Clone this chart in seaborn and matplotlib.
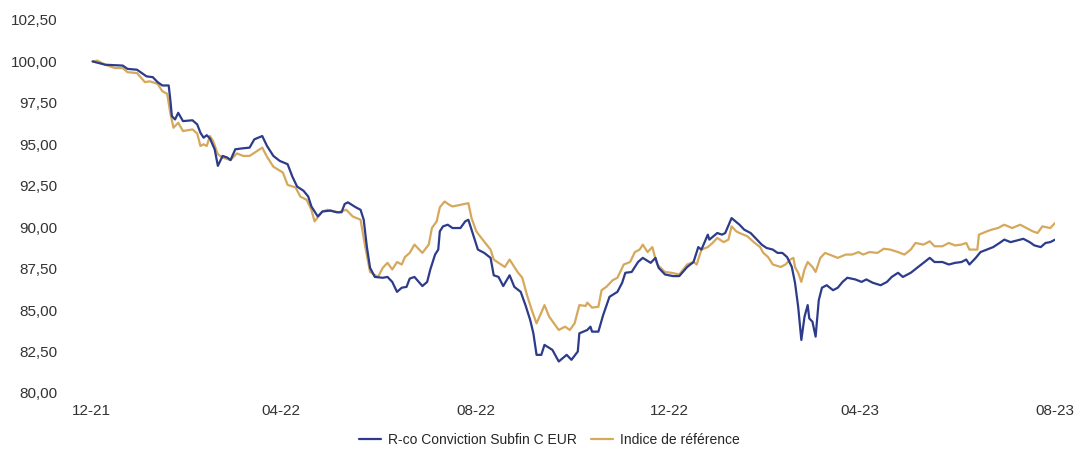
import pandas as pd
import matplotlib.pyplot as plt
import matplotlib.dates as mdates
import seaborn as sns

# series values (day offsets from 31/12/2021)
start = "2021-12-31"

fund_days = [1, 9, 20, 23, 29, 32, 35, 39, 42, 45, 49, 50, 51, 53, 55, 58, 64, 67, 69, 71,
             73, 75, 78, 80, 83, 86, 88, 91, 95, 100, 103, 108, 111, 115, 119, 124, 127, 130, 134, 137,
             139, 143, 146, 151, 155, 158, 160, 162, 167, 170, 172, 174, 176, 179, 184, 187, 190, 193, 196, 199,
             201, 204, 209, 212, 214, 217, 219, 220, 222, 225, 228, 233, 236, 238, 241, 244, 248, 252, 254, 257,
             260, 264, 267, 271, 274, 277, 279, 281, 284, 286, 291, 295, 300, 303, 307, 308, 313, 315, 316, 320,
             323, 327, 332, 335, 337, 341, 345, 348, 353, 356, 358, 362, 367, 371, 376, 380, 383, 385, 389, 390,
             395, 398, 400, 404, 409, 412, 416, 420, 423, 426, 430, 433, 436, 439, 442, 444, 446, 448, 450, 452,
             453, 455, 457, 459, 461, 464, 468, 471, 474, 477, 482, 486, 489, 493, 498, 502, 505, 509, 512, 517,
             521, 525, 529, 532, 537, 541, 545, 549, 552, 554, 558, 561, 565, 569, 573, 576, 580, 584, 588, 592,
             595, 599, 602, 605, 608]
fund = [100.0, 99.8, 99.75, 99.55, 99.5, 99.3, 99.1, 99.05, 98.75, 98.55, 98.55, 97.7, 96.7, 96.5, 96.9, 96.4, 96.45, 96.2, 95.7, 95.4,
        95.55, 95.35, 94.7, 93.7, 94.3, 94.2, 94.05, 94.7, 94.75, 94.8, 95.3, 95.5, 94.9, 94.3, 94.0, 93.8, 93.05, 92.45, 92.2, 91.85,
        91.25, 90.65, 90.95, 91.0, 90.9, 90.9, 91.4, 91.5, 91.2, 91.05, 90.45, 88.8, 87.55, 87.0, 86.95, 87.0, 86.7, 86.1, 86.35, 86.4,
        86.9, 87.0, 86.45, 86.7, 87.45, 88.35, 88.65, 89.75, 90.05, 90.15, 89.95, 89.95, 90.35, 90.45, 89.55, 88.65, 88.45, 88.15, 87.1, 87.0,
        86.45, 87.1, 86.4, 86.1, 85.3, 84.4, 83.6, 82.3, 82.3, 82.9, 82.6, 81.9, 82.3, 82.0, 82.5, 83.6, 83.8, 84.0, 83.7, 83.7,
        84.7, 85.8, 86.1, 86.65, 87.25, 87.3, 87.9, 88.15, 87.85, 88.15, 87.55, 87.15, 87.05, 87.05, 87.6, 87.9, 88.8, 88.65, 89.55, 89.25,
        89.65, 89.55, 89.65, 90.55, 90.15, 89.85, 89.65, 89.25, 88.95, 88.75, 88.65, 88.45, 88.45, 88.2, 87.6, 86.65, 85.2, 83.2, 84.6, 85.3,
        84.5, 84.3, 83.4, 85.6, 86.35, 86.5, 86.2, 86.35, 86.7, 86.95, 86.85, 86.7, 86.85, 86.65, 86.5, 86.7, 87.0, 87.25, 87.0, 87.25,
        87.55, 87.85, 88.15, 87.9, 87.9, 87.75, 87.85, 87.9, 88.05, 87.75, 88.15, 88.5, 88.65, 88.8, 89.05, 89.25, 89.1, 89.2, 89.3, 89.1,
        88.9, 88.8, 89.05, 89.1, 89.25]

bench_days = [1, 4, 9, 15, 20, 23, 29, 34, 37, 42, 45, 48, 50, 52, 55, 58, 64, 67, 69, 71,
              73, 75, 77, 80, 83, 88, 92, 96, 100, 108, 111, 115, 121, 124, 129, 132, 136, 139, 141, 146,
              149, 156, 161, 165, 170, 173, 176, 181, 184, 187, 190, 193, 196, 198, 201, 204, 209, 213, 215, 218,
              220, 223, 226, 228, 233, 238, 240, 243, 247, 252, 254, 257, 261, 264, 269, 272, 275, 278, 281, 284,
              286, 289, 295, 299, 302, 305, 308, 312, 313, 316, 320, 322, 325, 329, 332, 336, 340, 343, 346, 348,
              351, 354, 357, 362, 366, 371, 376, 380, 382, 385, 389, 392, 395, 399, 402, 404, 407, 409, 414, 418,
              422, 424, 427, 430, 435, 438, 441, 443, 444, 446, 448, 450, 452, 455, 457, 460, 463, 467, 471, 476,
              480, 484, 487, 491, 496, 500, 504, 509, 513, 517, 520, 525, 529, 532, 537, 541, 545, 549, 552, 554,
              559, 560, 565, 568, 572, 576, 581, 586, 590, 594, 597, 600, 605, 608]
bench = [100.0, 100.05, 99.8, 99.6, 99.6, 99.35, 99.3, 98.75, 98.8, 98.65, 98.2, 98.05, 96.9, 96.0, 96.3, 95.8, 95.9, 95.65, 94.9, 95.0,
         94.9, 95.5, 95.2, 94.4, 94.2, 94.05, 94.45, 94.3, 94.3, 94.8, 94.25, 93.65, 93.3, 92.55, 92.4, 91.85, 91.65, 91.05, 90.35, 90.95,
         91.05, 90.9, 91.05, 90.65, 90.45, 88.8, 87.3, 87.0, 87.55, 87.85, 87.45, 87.9, 87.75, 88.2, 88.45, 88.95, 88.45, 88.95, 89.95, 90.35,
         91.2, 91.55, 91.35, 91.25, 91.35, 91.45, 90.55, 89.75, 89.25, 88.65, 88.05, 87.85, 87.6, 88.05, 87.3, 86.95, 85.9, 85.0, 84.2, 84.85,
         85.3, 84.6, 83.8, 84.0, 83.8, 84.2, 85.3, 85.25, 85.45, 85.15, 85.2, 86.2, 86.4, 86.8, 86.95, 87.75, 87.9, 88.5, 88.65, 88.95,
         88.5, 88.8, 87.75, 87.3, 87.25, 87.15, 87.75, 87.9, 87.75, 88.65, 88.8, 89.05, 89.35, 89.1, 89.25, 90.05, 89.75, 89.65, 89.45, 89.1,
         88.8, 88.45, 88.2, 87.75, 87.6, 87.75, 88.05, 88.15, 87.6, 87.25, 86.7, 87.45, 87.9, 87.6, 87.3, 88.15, 88.45, 88.3, 88.15, 88.35,
         88.35, 88.5, 88.35, 88.5, 88.45, 88.7, 88.65, 88.5, 88.35, 88.65, 89.05, 88.95, 89.15, 88.85, 88.85, 89.05, 88.9, 88.95, 89.05, 88.65,
         88.65, 89.55, 89.75, 89.85, 89.95, 90.15, 89.95, 90.15, 89.95, 89.75, 89.65, 90.05, 89.95, 90.25]

tick_dates = ["2021-12-31", "2022-04-30", "2022-08-31", "2022-12-31", "2023-04-30", "2023-08-31"]
labels = ["R-co Conviction Subfin C EUR", "Indice de référence"]
colors = ["#2C3B8A", "#D6A85C"]

t0 = pd.Timestamp(start)
df_fund = pd.DataFrame({"date": t0 + pd.to_timedelta(fund_days, unit="D"), "value": fund})
df_bench = pd.DataFrame({"date": t0 + pd.to_timedelta(bench_days, unit="D"), "value": bench})

sns.set_style("white")
plt.rcParams["font.family"] = ["Liberation Sans", "DejaVu Sans"]

fig = plt.figure(figsize=(10.77, 4.5), dpi=100)
ax = fig.add_axes([0.0845, 0.1267, 0.8951, 0.8289])

sns.lineplot(data=df_bench, x="date", y="value", color=colors[1], linewidth=1.6, ax=ax, label=labels[1])
sns.lineplot(data=df_fund, x="date", y="value", color=colors[0], linewidth=1.6, ax=ax, label=labels[0])

ax.set_xlim(t0, pd.Timestamp(tick_dates[-1]))
ax.set_ylim(80, 102.5)
ax.set_yticks([80 + 2.5 * i for i in range(10)])
ax.set_yticklabels([f"{80 + 2.5 * i:.2f}".replace(".", ",") for i in range(10)])
ax.set_xticks(pd.to_datetime(tick_dates))
ax.xaxis.set_major_formatter(mdates.DateFormatter("%m-%y"))
ax.tick_params(axis="y", length=0, pad=24, labelsize=11, labelcolor="#333333")
ax.tick_params(axis="x", length=0, pad=8, labelsize=11, labelcolor="#333333")
ax.set_xlabel("")
ax.set_ylabel("")
for s in ax.spines.values():
    s.set_visible(False)

h, l = ax.get_legend_handles_labels()
ax.get_legend().remove()
fig.legend(h[::-1], l[::-1], loc="center", bbox_to_anchor=(0.51, 0.022), ncol=2,
           frameon=False, fontsize=10, handlelength=1.6, columnspacing=1.0, handletextpad=0.5)

fig.savefig("out.png", dpi=100)
